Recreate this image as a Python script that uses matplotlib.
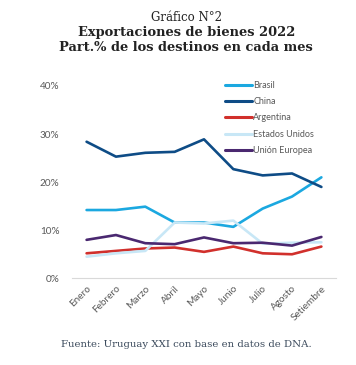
import matplotlib
matplotlib.use("Agg")
import matplotlib.pyplot as plt
from matplotlib.ticker import FuncFormatter

meses = ["Enero", "Febrero", "Marzo", "Abril", "Mayo", "Junio", "Julio", "Agosto", "Setiembre"]
brasil = [14.2, 14.2, 14.9, 11.6, 11.6, 10.7, 14.5, 17.0, 21.0]
china = [28.4, 25.3, 26.1, 26.3, 28.9, 22.7, 21.4, 21.8, 19.0]
argentina = [5.2, 5.7, 6.2, 6.4, 5.5, 6.6, 5.2, 5.0, 6.6]
eeuu = [4.5, 5.2, 5.7, 11.6, 11.4, 12.0, 7.2, 7.4, 7.5]
ue = [8.0, 9.0, 7.3, 7.1, 8.5, 7.3, 7.4, 6.8, 8.6]
series_names = ["Brasil", "China", "Argentina", "Estados Unidos", "Unión Europea"]
yticks = [0, 10, 20, 30, 40]

colors = ["#1ba8e0", "#0e4c86", "#d1302c", "#c8e7f6", "#4a2870"]
series = [brasil, china, argentina, eeuu, ue]

fig = plt.figure(figsize=(3.56, 3.65), dpi=100)
ax = fig.add_axes([0.202, 0.2375, 0.742, 0.527])

x = list(range(len(meses)))
for s, name, c in zip(series, series_names, colors):
    ax.plot(x, s, color=c, lw=1.9, label=name, solid_capstyle="round", solid_joinstyle="round")

ax.set_xlim(-0.5, len(meses) - 0.5)
ax.set_ylim(0, 40)
ax.set_yticks(yticks)
ax.yaxis.set_major_formatter(FuncFormatter(lambda v, p: f"{int(v)}%"))
ax.set_xticks(x)
ax.set_xticklabels(meses, rotation=45, ha="right", va="top", rotation_mode="anchor")
for sp in ["top", "right", "left"]:
    ax.spines[sp].set_visible(False)
ax.spines["bottom"].set_color("#d9d9d9")
ax.spines["bottom"].set_linewidth(0.8)
ax.tick_params(axis="both", length=0, colors="#595959", labelsize=7.2)
ax.tick_params(axis="y", pad=9)
ax.tick_params(axis="x", pad=4)
for lab in ax.get_xticklabels() + ax.get_yticklabels():
    lab.set_fontfamily("Lato")

leg = fig.legend(loc="upper left", bbox_to_anchor=(0.632, 0.778), frameon=False,
                 handlelength=3.0, handletextpad=0.15, labelspacing=0.8,
                 borderpad=0, borderaxespad=0, prop={"family": "Lato", "size": 6.5})
for t in leg.get_texts():
    t.set_color("#595959")
for l in leg.get_lines():
    l.set_linewidth(2.2)

fig.text(0.523, 0.953, "Gráfico N°2", ha="center", va="center", fontsize=8.5,
         family="DejaVu Serif", color="#222222")
fig.text(0.523, 0.912, "Exportaciones de bienes 2022", ha="center", va="center", fontsize=9.4,
         family="DejaVu Serif", weight="bold", color="#222222")
fig.text(0.523, 0.871, "Part.% de los destinos en cada mes", ha="center", va="center", fontsize=9.4,
         family="DejaVu Serif", weight="bold", color="#222222")
fig.text(0.523, 0.055, "Fuente: Uruguay XXI con base en datos de DNA.", ha="center", va="center",
         fontsize=7.3, family="DejaVu Serif", color="#3b4a5c")

fig.savefig("out.png", dpi=100)
